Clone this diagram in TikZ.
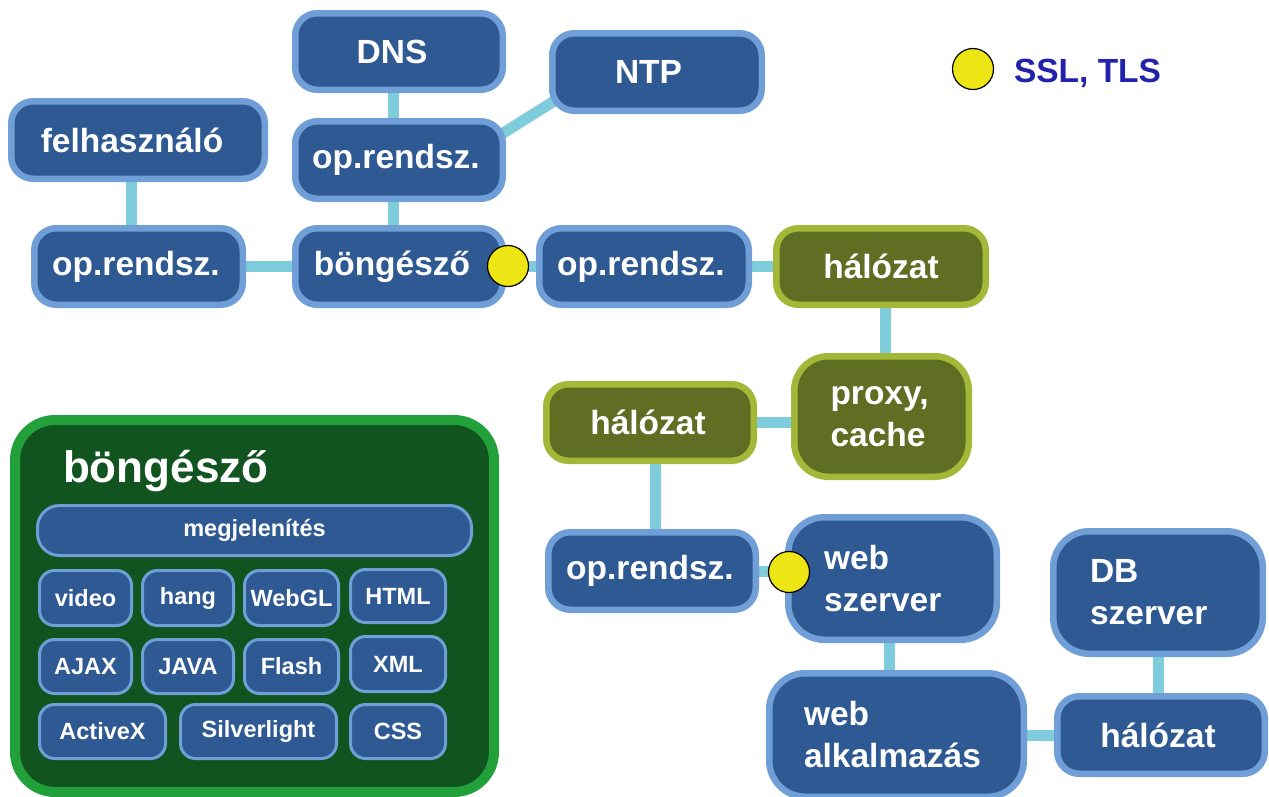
\documentclass[tikz,border=0pt]{standalone}
\usepackage{fontspec}
\setmainfont{Liberation Sans}
\usetikzlibrary{calc,backgrounds}
\definecolor{boxfill}{HTML}{2E5992}
\definecolor{boxline}{HTML}{6F9FD6}
\definecolor{netfill}{HTML}{5F6E23}
\definecolor{netline}{HTML}{A3B838}
\definecolor{wire}{HTML}{7FCCDD}
\definecolor{panelfill}{HTML}{125420}
\definecolor{panelline}{HTML}{22A03A}
\definecolor{tlsdot}{HTML}{EEE614}
\definecolor{legendtext}{HTML}{2222AA}
\begin{document}
\begin{tikzpicture}[x=1pt,y=-1pt,
  every node/.style={inner sep=0pt, outer sep=0pt},
  bigfont/.style={font=\bfseries\fontsize{33.5}{42}\selectfont},
  box/.style={draw=boxline, fill=boxfill, line width=6.5pt, rounded corners=22pt,
              text=white, bigfont},
  tallbox/.style={box, rounded corners=36pt, align=left},
  net/.style={box, draw=netline, fill=netfill},
  size/.style 2 args={minimum width=#1pt-6.5pt, minimum height=#2pt-6.5pt},
  % moves a one-line label sideways by half of the given amount
  nudge/.style={execute at begin node={\hspace*{#1pt}}},
  sbox/.style={draw=boxline, fill=boxfill, line width=3pt, rounded corners=15pt,
               text=white, font=\bfseries\fontsize{23.5}{28}\selectfont},
  ssize/.style 2 args={minimum width=#1pt-3pt, minimum height=#2pt-3pt},
  panel/.style={draw=panelline, fill=panelfill, line width=10pt, rounded corners=40pt},
  wire/.style={draw=wire, line width=11pt},
  dot/.style={circle, draw=black, line width=1.2pt, fill=tlsdot, minimum size=41pt},
]
\useasboundingbox (0,0) rectangle (1269,796);

% client side
\node[box, size={214}{83}, nudge=-14] (dns)  at (399,51.5)  {DNS};
\node[box, size={216}{84}, nudge=-17] (ntp)  at (657,72)    {NTP};
\node[box, size={260}{84}, nudge=-12] (felh) at (138,140)   {felhasználó};
\node[box, size={214}{84}, nudge=-6]  (opt)  at (399,160)   {op.rendsz.};
\node[box, size={215}{83}, nudge=-5]  (opl)  at (138.5,266.5) {op.rendsz.};
\node[box, size={214}{83}, nudge=-14] (bong) at (399,266.5) {böngésző};
\node[box, size={216}{83}, nudge=-6]  (opm)  at (644,266.5) {op.rendsz.};

% network path
\node[net, size={216}{83}] (halT)  at (881,266.5) {hálózat};
\node[net, size={181}{127}, rounded corners=34pt, align=left, text width=102pt] (proxy) at (881.5,416.5) {proxy,\\cache};
\node[net, size={214}{83}, nudge=-4] (halL)  at (650,422.5) {hálózat};

% server side
\node[box, size={214}{84}, nudge=-4] (opd) at (652,571) {op.rendsz.};
\node[tallbox, size={215}{129}, text width=137pt] (websz)  at (892.5,578.5) {web\\szerver};
\node[tallbox, size={216}{129}, text width=136pt] (db)     at (1158,592.5)  {DB\\szerver};
\node[tallbox, size={261}{130}, text width=185pt] (webapp) at (896.5,735)   {web\\alkalmazás};
\node[box, size={214}{84}, nudge=-6] (halB) at (1161,735) {hálózat};

% connectors
\begin{scope}[on background layer]
  \draw[wire] ([xshift=-7pt]felh.south) -- ([xshift=-7pt]felh.south |- opl.north);
  \draw[wire] (opl.east) -- (bong.west);
  \draw[wire] ([xshift=-6pt]dns.south) -- ([xshift=-6pt]dns.south |- opt.north);
  \draw[wire] ([xshift=-6pt]opt.south) -- ([xshift=-6pt]opt.south |- bong.north);
  \draw[wire] ($(opt.north east)+(-22.75,26.25)$) -- ($(ntp.south west)+(22.75,-22.75)$);
  \draw[wire] (bong.east) -- (opm.west);
  \draw[wire] (opm.east) -- (halT.west);
  \draw[wire] ([xshift=4pt]halT.south) -- ([xshift=4pt]halT.south |- proxy.north);
  \draw[wire] (halL.east) -- (halL.east -| proxy.west);
  \draw[wire] ([xshift=5pt]halL.south) -- ([xshift=5pt]halL.south |- opd.north);
  \draw[wire] (opd.east) -- (opd.east -| websz.west);
  \draw[wire] ([xshift=-3.5pt]websz.south) -- ([xshift=-3.5pt]websz.south |- webapp.north);
  \draw[wire] (webapp.east) -- (webapp.east -| halB.west);
  \draw[wire] (db.south) -- (db.south |- halB.north);
\end{scope}

% encrypted links
\node[dot] (tlsA) at (508,266) {};
\node[dot] (tlsB) at (789,572) {};

% legend
\node[dot] (tlsKey) at (973,69) {};
\node[anchor=base west, text=legendtext, bigfont] (tlsLabel) at (1014,82) {SSL, TLS};

% browser internals
\node[panel, minimum width=479pt, minimum height=372pt] (panel) at (254.5,606) {};
\node[anchor=base west, text=white, font=\bfseries\fontsize{44}{50}\selectfont] (ptitle) at (63,482) {böngésző};
\node[sbox, ssize={437}{53}, rounded corners=22pt] (megj) at (254.5,530.5) {megjelenítés};

\node[sbox, ssize={95}{58}] (video) at (85.5,598) {video};
\node[sbox, ssize={94}{58}] (hang)  at (188,598)  {hang};
\node[sbox, ssize={97}{58}] (webgl) at (291.5,598) {WebGL};
\node[sbox, ssize={98}{56}] (html)  at (398,596)  {HTML};

\node[sbox, ssize={95}{57}] (ajax)  at (85.5,666.5) {AJAX};
\node[sbox, ssize={94}{57}] (java)  at (188,666.5)  {JAVA};
\node[sbox, ssize={97}{57}] (flash) at (291.5,666.5) {Flash};
\node[sbox, ssize={98}{58}] (xml)   at (398,664)    {XML};

\node[sbox, ssize={129}{57}] (activex) at (102.5,731.5) {ActiveX};
\node[sbox, ssize={159}{57}] (silver)  at (258.5,731.5) {Silverlight};
\node[sbox, ssize={98}{57}]  (css)     at (398,731.5)   {CSS};
\end{tikzpicture}
\end{document}
